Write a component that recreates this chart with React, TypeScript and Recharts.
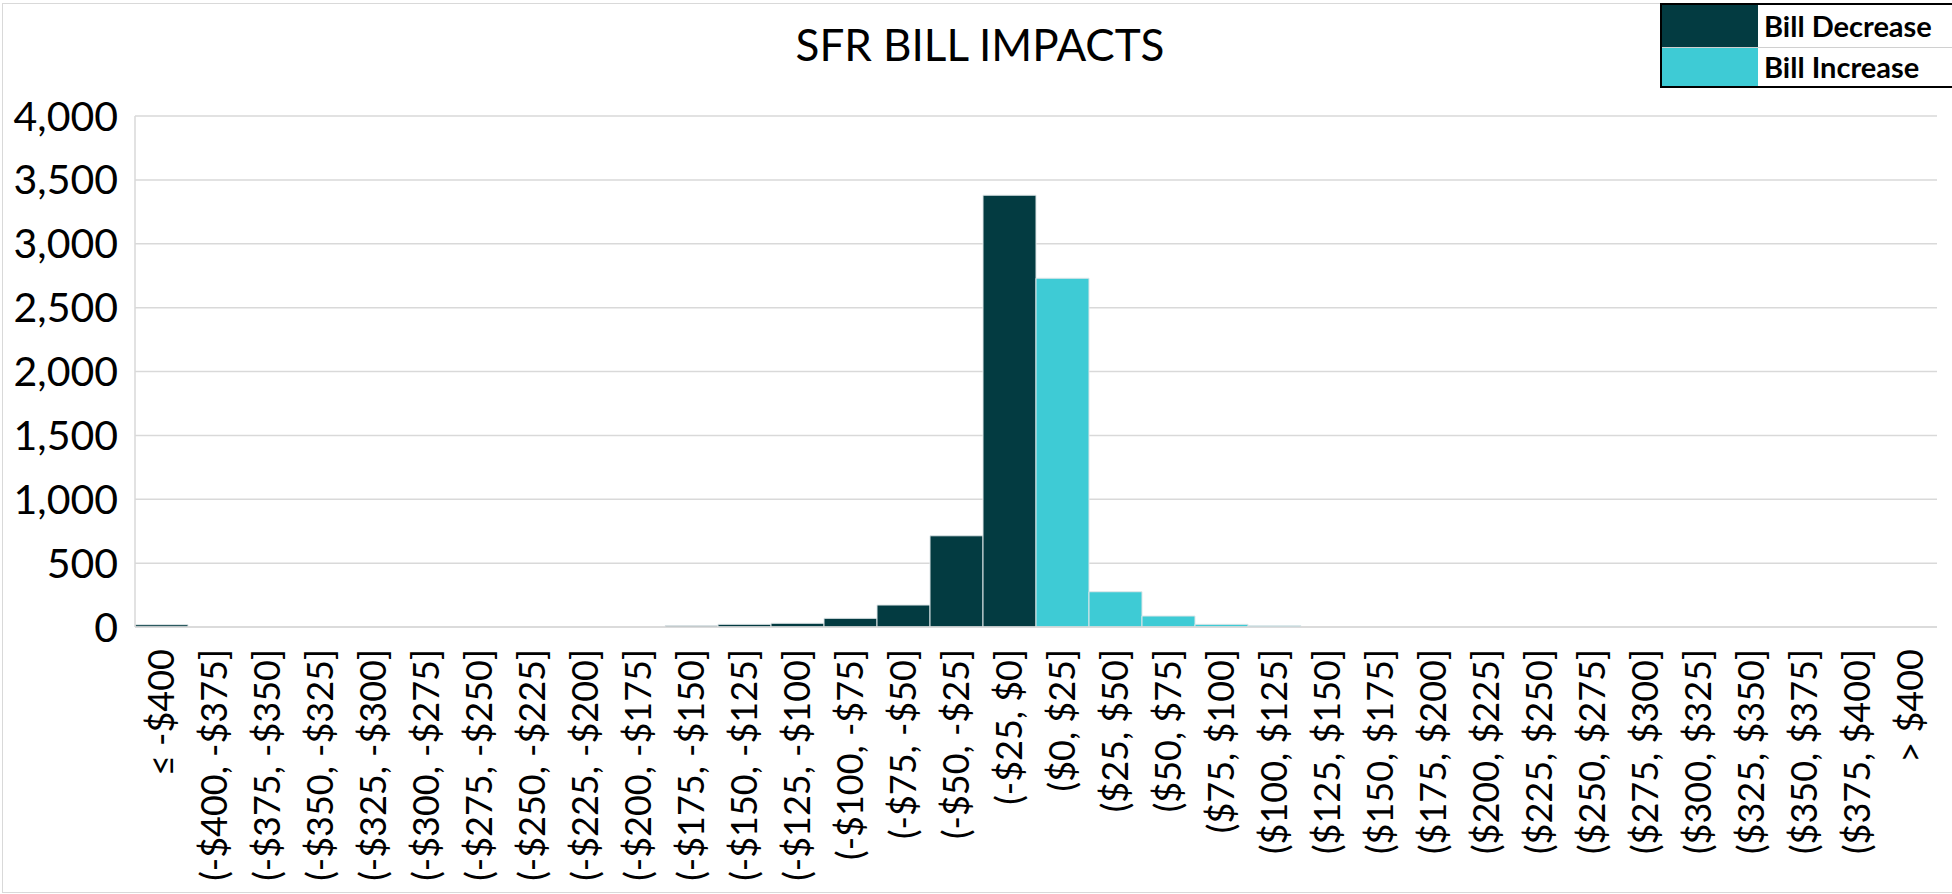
import React from "react";
import { BarChart, Bar, XAxis, YAxis, CartesianGrid } from "recharts";

const categories = [
  "≤ -$400",
  "(-$400, -$375]",
  "(-$375, -$350]",
  "(-$350, -$325]",
  "(-$325, -$300]",
  "(-$300, -$275]",
  "(-$275, -$250]",
  "(-$250, -$225]",
  "(-$225, -$200]",
  "(-$200, -$175]",
  "(-$175, -$150]",
  "(-$150, -$125]",
  "(-$125, -$100]",
  "(-$100, -$75]",
  "(-$75, -$50]",
  "(-$50, -$25]",
  "(-$25, $0]",
  "($0, $25]",
  "($25, $50]",
  "($50, $75]",
  "($75, $100]",
  "($100, $125]",
  "($125, $150]",
  "($150, $175]",
  "($175, $200]",
  "($200, $225]",
  "($225, $250]",
  "($250, $275]",
  "($275, $300]",
  "($300, $325]",
  "($325, $350]",
  "($350, $375]",
  "($375, $400]",
  "> $400",
];

const billDecrease = [
  18, 0, 0, 0, 0, 0, 0, 0, 0, 0, 10, 21, 29, 68, 172, 714, 3380,
  0, 0, 0, 0, 0, 0, 0, 0, 0, 0, 0, 0, 0, 0, 0, 0, 0,
];

const billIncrease = [
  0, 0, 0, 0, 0, 0, 0, 0, 0, 0, 0, 0, 0, 0, 0, 0, 0,
  2730, 276, 86, 21, 10, 0, 0, 0, 0, 0, 0, 0, 0, 0, 0, 0, 0,
];

const yTicks = [0, 500, 1000, 1500, 2000, 2500, 3000, 3500, 4000];

const series = [
  { key: "decrease", name: "Bill Decrease", color: "#033b41" },
  { key: "increase", name: "Bill Increase", color: "#3ecbd5" },
];

const data = categories.map((c, i) => ({
  name: c,
  decrease: billDecrease[i],
  increase: billIncrease[i],
}));

const FONT = "Lato, 'Noto Sans', sans-serif";

function XTick(props: any) {
  const { x, y, payload } = props;
  return (
    <text
      x={x}
      y={y + 20}
      dy="0.36em"
      transform={`rotate(-90, ${x}, ${y + 20})`}
      textAnchor="end"
      fontFamily={FONT}
      fontSize={36}
      fill="#000"
    >
      {payload.value}
    </text>
  );
}

function LegendBox() {
  return (
    <div
      style={{
        position: "absolute",
        left: 1660,
        top: 3,
        width: 300,
        height: 81,
        border: "2px solid #000",
        background: "#fff",
        fontFamily: FONT,
        fontWeight: 700,
        fontSize: 29,
        color: "#000",
      }}
    >
      {series.map((s, i) => (
        <div
          key={s.key}
          style={{
            display: "flex",
            height: i === 0 ? 42 : 39,
            borderTop: i === 0 ? "none" : "1px solid #d0d0d0",
            boxSizing: "border-box",
          }}
        >
          <div style={{ width: 96, background: s.color }} />
          <div style={{ paddingLeft: 6, lineHeight: i === 0 ? "42px" : "38px" }}>
            {s.name}
          </div>
        </div>
      ))}
    </div>
  );
}

export default function App() {
  return (
    <div
      style={{
        position: "absolute",
        left: 0,
        top: 0,
        width: 1952,
        height: 894,
        overflow: "hidden",
        background: "#fff",
      }}
    >
      <div
        style={{
          position: "absolute",
          left: 2,
          top: 3,
          width: 1960,
          height: 888,
          border: "1px solid #d9d9d9",
        }}
      />
      <div
        style={{
          position: "absolute",
          left: 980,
          top: 18,
          transform: "translateX(-50%)",
          whiteSpace: "nowrap",
          fontFamily: FONT,
          fontSize: 44,
          color: "#000",
        }}
      >
        SFR BILL IMPACTS
      </div>
      <BarChart
        width={1952}
        height={894}
        data={data}
        barCategoryGap={0}
        margin={{ top: 116, right: 15, left: 15, bottom: 7 }}
      >
        <CartesianGrid vertical={false} stroke="#d9d9d9" strokeWidth={1.5} />
        <XAxis
          dataKey="name"
          interval={0}
          height={260}
          tickLine={false}
          tickSize={0}
          axisLine={{ stroke: "#d9d9d9", strokeWidth: 1.5 }}
          tick={<XTick />}
        />
        <YAxis
          width={120}
          domain={[0, 4000]}
          ticks={yTicks}
          tickLine={false}
          tickSize={0}
          tickMargin={17}
          axisLine={{ stroke: "#d9d9d9", strokeWidth: 1.5 }}
          tick={{ fontFamily: FONT, fontSize: 41, fill: "#000" }}
          tickFormatter={(v: number) => v.toLocaleString("en-US")}
        />
        {series.map((s) => (
          <Bar
            key={s.key}
            dataKey={s.key}
            name={s.name}
            stackId="bills"
            fill={s.color}
            stroke="#dfe6e8"
            strokeWidth={1}
            isAnimationActive={false}
          />
        ))}
      </BarChart>
      <LegendBox />
    </div>
  );
}
